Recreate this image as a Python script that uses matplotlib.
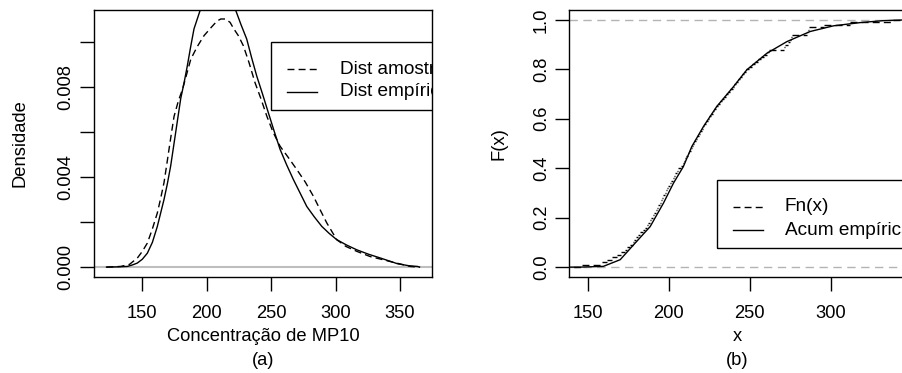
import numpy as np
import matplotlib
matplotlib.use("Agg")
import matplotlib.pyplot as plt
from matplotlib.patches import Rectangle

plt.rcParams['font.family'] = ['Liberation Sans', 'DejaVu Sans']
FS = 13.2
FS_LEG = 13.7

# (a) densidades
amost_x = [122.2, 133.2, 140.0, 146.1, 150.0, 153.9, 157.8, 161.6, 164.2, 166.8,
           168.8, 170.7, 172.7, 174.6, 178.0, 181.1, 184.5, 187.6, 192.5, 197.9,
           204.0, 208.0, 210.9, 214.5, 218.1, 221.0, 224.5, 228.4, 232.8, 237.5,
           242.0, 246.6, 251.5, 256.9, 263.0, 269.9, 276.5, 282.8, 288.0, 293.2,
           300.9, 308.0, 316.5, 326.8, 342.3, 357.8, 365.1]
amost_y = [0.0, 0.00003, 0.00012, 0.0004, 0.0007, 0.00107, 0.0017, 0.0024, 0.00305, 0.00375,
           0.0045, 0.00524, 0.006, 0.0067, 0.0074, 0.0079, 0.0086, 0.00925, 0.0098, 0.0103,
           0.0107, 0.01095, 0.01104, 0.01104, 0.01089, 0.0106, 0.0103, 0.00985, 0.0091, 0.0082,
           0.0075, 0.00672, 0.006, 0.00538, 0.0049, 0.00434, 0.00378, 0.00315, 0.00255, 0.00196,
           0.00122, 0.00092, 0.0007, 0.00047, 0.00025, 0.00003, 0.0]
empir_x = [122.2, 130.0, 138.4, 142.5, 146.1, 150.0, 153.9, 157.8, 161.6, 164.2,
           166.8, 169.4, 172.0, 175.9, 179.8, 182.4, 184.9, 187.5, 190.1, 195.3,
           201.0, 208.0, 215.0, 222.0, 226.5, 231.0, 234.9, 238.8, 243.3, 247.8,
           252.3, 256.9, 262.0, 267.2, 272.4, 277.6, 283.4, 289.3, 295.0, 300.9,
           308.6, 316.4, 325.7, 335.0, 348.0, 357.0, 363.5, 365.1]
empir_y = [0.0, 0.00001, 0.00003, 0.0001, 0.00018, 0.00035, 0.00062, 0.0011, 0.0018, 0.0024,
           0.003, 0.0037, 0.0045, 0.006, 0.0075, 0.0082, 0.00895, 0.0098, 0.0106, 0.0115,
           0.0123, 0.0127, 0.0124, 0.0115, 0.0108, 0.01015, 0.0093, 0.0085, 0.0077, 0.00687,
           0.00605, 0.00524, 0.00455, 0.0039, 0.0033, 0.0027, 0.00224, 0.00181, 0.0015, 0.00122,
           0.00098, 0.00077, 0.00057, 0.0004, 0.00015, 0.00006, 0.00003, 0.0]

# (b) amostra (ordenada) para Fn(x) e acumulada empirica
amostra = [146.3, 158.9, 162.0, 165.0, 167.8, 170.6, 173.0, 173.9, 175.9, 177.8,
           178.3, 179.7, 181.1, 182.5, 183.9, 185.3, 186.6, 187.4, 188.3, 189.2,
           190.0, 190.9, 191.8, 192.6, 193.5, 194.4, 195.2, 195.9, 196.7, 197.5,
           198.2, 199.0, 199.8, 200.5, 201.4, 202.3, 203.2, 204.1, 205.0, 205.9,
           207.8, 208.5, 209.2, 209.8, 210.4, 212.1, 212.7, 213.4, 214.0, 214.8,
           215.7, 216.6, 217.5, 218.4, 219.3, 220.2, 221.0, 222.0, 223.0, 224.0,
           225.0, 226.1, 227.1, 228.1, 229.1, 230.2, 231.5, 232.8, 234.1, 235.4,
           236.7, 238.0, 239.3, 240.5, 241.7, 242.9, 244.1, 245.3, 246.5, 247.7,
           249.4, 251.2, 253.1, 254.9, 256.8, 258.6, 260.5, 261.5, 270.8, 271.8,
           273.5, 274.8, 275.5, 276.0, 285.2, 285.8, 286.2, 295.5, 311.9, 338.2]
acum_x = [138.6, 145.2, 159.6, 170.0, 179.2, 188.5, 196.7, 202.9, 209.0, 214.2,
          221.4, 229.6, 239.9, 248.1, 260.5, 272.8, 287.2, 301.6, 318.0, 332.4, 346.0]
acum_y = [0.0, 0.0, 0.003, 0.03, 0.097, 0.164, 0.259, 0.34, 0.407, 0.488,
          0.569, 0.65, 0.73, 0.798, 0.865, 0.912, 0.953, 0.976, 0.989, 0.997, 1.0]

W, H = 903, 373
fig = plt.figure(figsize=(W / 100, H / 100), dpi=100)
ax1 = fig.add_axes([94 / W, 96 / H, 338 / W, 267 / H])
ax2 = fig.add_axes([569.3 / W, 96 / H, 336 / W, 267 / H])

dash = (0, (5, 3))

def style(ax):
    for s in ax.spines.values():
        s.set_linewidth(1.0)
    ax.tick_params(length=10, width=1.0, labelsize=FS)
    ax.tick_params(axis='x', pad=10)
    ax.tick_params(axis='y', pad=4)
    for lab in ax.get_yticklabels():
        lab.set_rotation(90)
        lab.set_va('center')

def legenda(ax, x0, y0, y1, lx, tx, rows, labels):
    # caixa de legenda recortada pela area do grafico, como no original
    ax.add_patch(Rectangle((x0, y1), 1.0, y0 - y1, transform=ax.transAxes,
                           fill=False, lw=1.0, ec='black', clip_on=True))
    ax.plot(lx, [rows[0]] * 2, 'k', lw=1.0, ls=dash, transform=ax.transAxes, clip_on=True)
    ax.plot(lx, [rows[1]] * 2, 'k', lw=1.0, transform=ax.transAxes, clip_on=True)
    for r, t in zip(rows, labels):
        ax.text(tx, r, t, transform=ax.transAxes, fontsize=FS_LEG, va='center',
                ha='left', clip_on=True)

# ---- (a)
ax1.axhline(0, color='#BEBEBE', lw=1.5)
ax1.plot(amost_x, amost_y, 'k', lw=1.0, ls=dash)
ax1.plot(empir_x, empir_y, 'k', lw=1.0)
ax1.set_xlim(112.5, 374.8)
ax1.set_ylim(-0.00044, 0.01144)
ax1.set_xticks([150, 200, 250, 300, 350])
ax1.set_yticks([0, 0.002, 0.004, 0.006, 0.008, 0.010])
ax1.set_yticklabels(['0.000', '', '0.004', '', '0.008', ''])
style(ax1)
ax1.set_ylabel('Densidade', fontsize=FS)
ax1.yaxis.set_label_coords(-0.193, 0.5)
ax1.set_xlabel('Concentração de MP10', fontsize=FS)
ax1.xaxis.set_label_coords(0.5, -0.19)
ax1.text(0.5, -0.311, '(a)', transform=ax1.transAxes, ha='center', va='center', fontsize=FS)
legenda(ax1, 0.5237, 0.879, 0.6255, [0.571, 0.660], 0.728, [0.779, 0.693],
        ['Dist amostral', 'Dist empírica'])

# ---- (b)
ax2.axhline(0, color='#B3B3B3', lw=1.0, ls=(0, (6, 4)))
ax2.axhline(1, color='#B3B3B3', lw=1.0, ls=(0, (6, 4)))
n = len(amostra)
xs = np.array(amostra)
fn = np.arange(1, n + 1) / n
xr = np.append(xs[1:], 400)
ax2.hlines(0, 100, xs[0], colors='k', lw=1.0, linestyles=dash)
ax2.hlines(fn, xs, xr, colors='k', lw=1.0, linestyles=dash)
ax2.plot(acum_x, acum_y, 'k', lw=1.0)
ax2.set_xlim(138.6, 345.9)
ax2.set_ylim(-0.04, 1.04)
ax2.set_xticks([150, 200, 250, 300])
ax2.set_yticks([0, 0.2, 0.4, 0.6, 0.8, 1.0])
ax2.set_yticklabels(['0.0', '0.2', '0.4', '0.6', '0.8', '1.0'])
style(ax2)
ax2.set_ylabel('F(x)', fontsize=FS)
ax2.yaxis.set_label_coords(-0.185, 0.5)
ax2.set_xlabel('x', fontsize=FS)
ax2.xaxis.set_label_coords(0.5, -0.19)
ax2.text(0.5, -0.311, '(b)', transform=ax2.transAxes, ha='center', va='center', fontsize=FS)
legenda(ax2, 0.4387, 0.3633, 0.107, [0.487, 0.576], 0.6417, [0.2633, 0.176],
        ['Fn(x)', 'Acum empírica'])

fig.savefig('out.png', dpi=100)
